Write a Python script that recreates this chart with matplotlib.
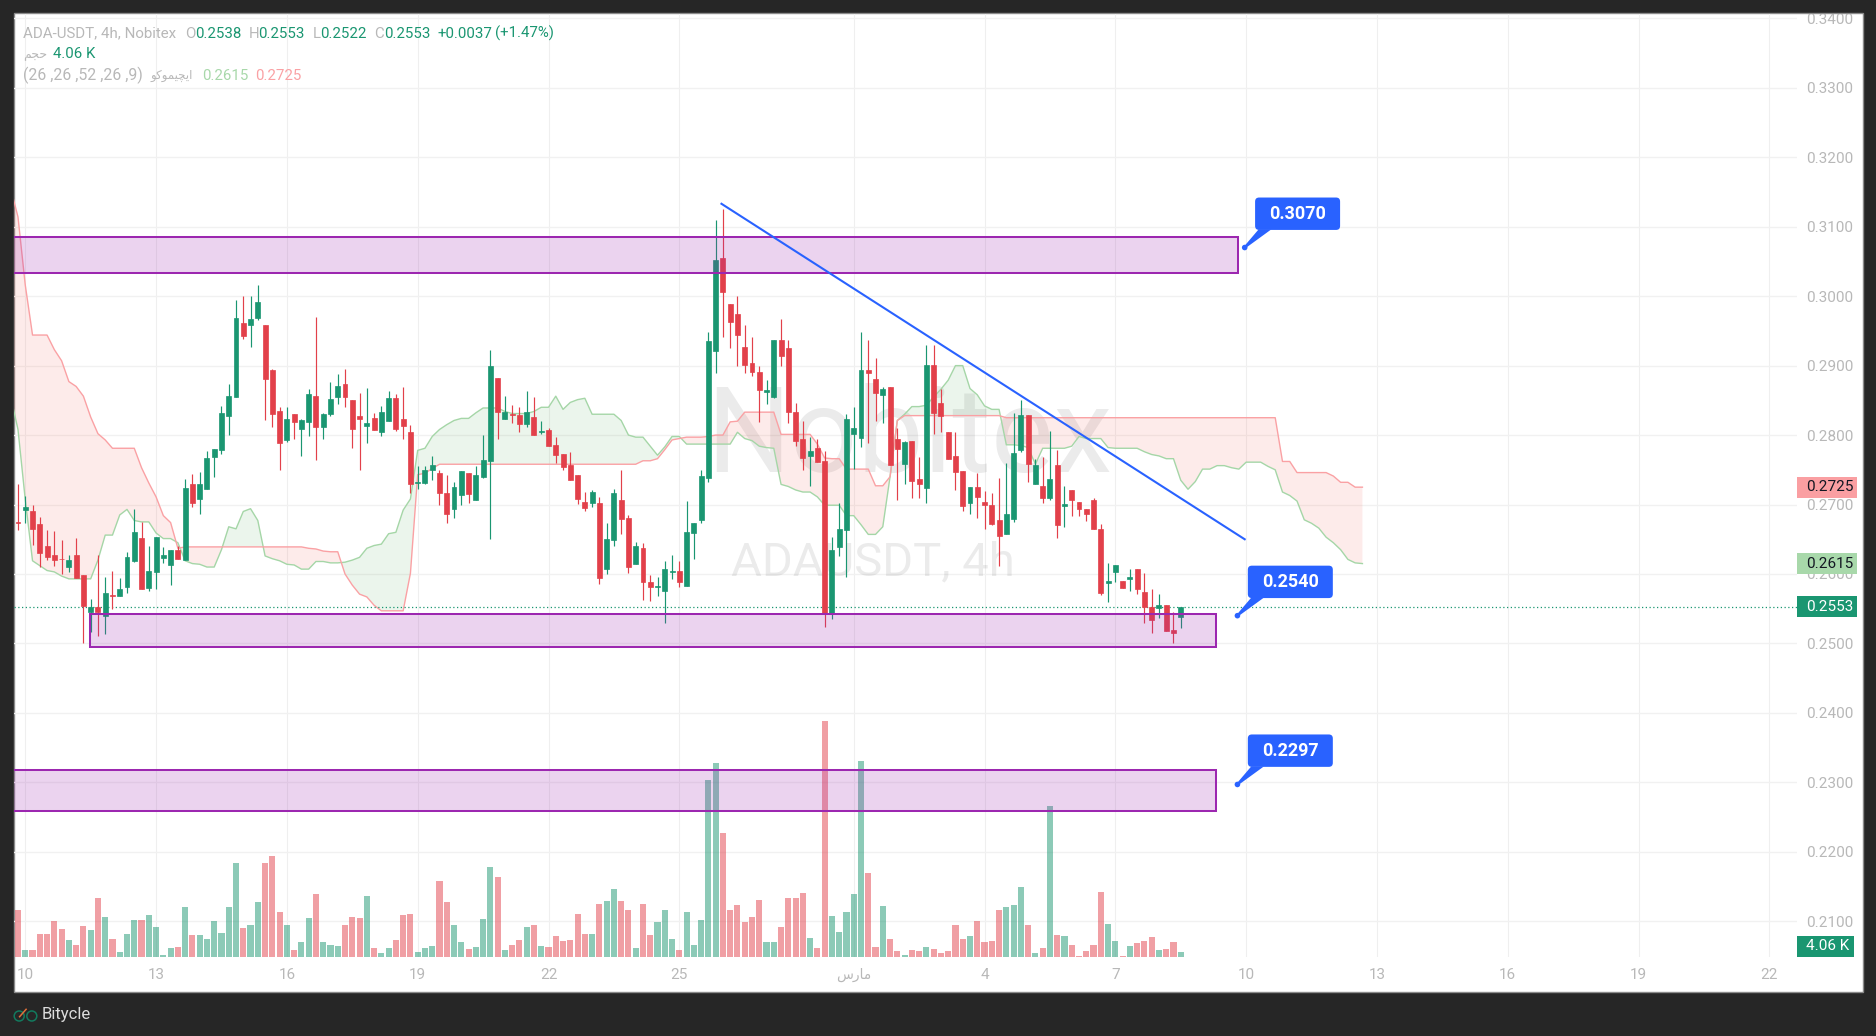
import numpy as np
import matplotlib
matplotlib.use("Agg")
import matplotlib.pyplot as plt
from matplotlib.lines import Line2D
from matplotlib.patches import Circle, FancyBboxPatch, Polygon, Rectangle
from matplotlib.transforms import Bbox, IdentityTransform

plt.rcParams["font.family"] = ["Roboto", "DejaVu Sans"]

# 4h candles, first one sits one bar before the "10" tick
opens = [
    .2675, .2692, .2691, .2672, .2640, .2627, .2622, .2610, .2627, .2599,
    .2545, .2553, .2540, .2570, .2568, .2581, .2619, .2652, .2580, .2603,
    .2623, .2613, .2635, .2620, .2730, .2708, .2722, .2769, .2779, .2828,
    .2855, .2961, .2958, .2969, .2959, .2894, .2835, .2793, .2830, .2809,
    .2819, .2856, .2812, .2830, .2855, .2874, .2851, .2828, .2813, .2825,
    .2805, .2820, .2853, .2823, .2805, .2731, .2731, .2750, .2745, .2717,
    .2694, .2714, .2745, .2707, .2740, .2763, .2882, .2823, .2830, .2829,
    .2816, .2826, .2805, .2807, .2786, .2773, .2757, .2743, .2704, .2702,
    .2702, .2607, .2649, .2707, .2681, .2614, .2637, .2589, .2581, .2576,
    .2603, .2604, .2583, .2659, .2678, .2738, .2921, .3055, .2989, .2974,
    .2927, .2904, .2891, .2862, .2855, .2937, .2925, .2833, .2794, .2770,
    .2781, .2763, .2542, .2639, .2663, .2802, .2796, .2894, .2881, .2858,
    .2869, .2794, .2758, .2792, .2737, .2724, .2901, .2846, .2805, .2770,
    .2748, .2702, .2725, .2704, .2699, .2678, .2657, .2679, .2778, .2829,
    .2729, .2727, .2709, .2757, .2698, .2721, .2704, .2693, .2706, .2665,
    .2587, .2603, .2590, .2593, .2607, .2574, .2552, .2551, .2555, .2519,
    .2538,
]
highs = [
    .2730, .2712, .2699, .2682, .2663, .2662, .2649, .2627, .2652, .2599,
    .2564, .2627, .2596, .2604, .2594, .2632, .2694, .2675, .2640, .2653,
    .2639, .2635, .2640, .2737, .2744, .2747, .2777, .2780, .2842, .2874,
    .2995, .3000, .3000, .3016, .2959, .2895, .2841, .2841, .2830, .2823,
    .2866, .2970, .2832, .2877, .2888, .2895, .2851, .2861, .2868, .2832,
    .2842, .2864, .2859, .2869, .2815, .2756, .2756, .2770, .2750, .2743,
    .2733, .2748, .2745, .2756, .2800, .2923, .2882, .2856, .2843, .2841,
    .2864, .2855, .2820, .2810, .2797, .2773, .2776, .2743, .2718, .2721,
    .2711, .2673, .2722, .2750, .2685, .2646, .2645, .2599, .2596, .2619,
    .2627, .2619, .2705, .2673, .2750, .2949, .3110, .3126, .2989, .3000,
    .2959, .2941, .2900, .2879, .2937, .2967, .2937, .2846, .2820, .2797,
    .2794, .2777, .2653, .2702, .2830, .2841, .2949, .2937, .2911, .2869,
    .2869, .2810, .2792, .2792, .2769, .2930, .2930, .2866, .2805, .2805,
    .2748, .2725, .2745, .2719, .2716, .2738, .2760, .2832, .2850, .2829,
    .2765, .2768, .2806, .2778, .2727, .2721, .2704, .2693, .2709, .2672,
    .2616, .2613, .2590, .2607, .2607, .2601, .2578, .2571, .2555, .2545,
    .2553,
]
lows = [
    .2663, .2674, .2642, .2610, .2620, .2612, .2600, .2603, .2594, .2500,
    .2517, .2511, .2514, .2550, .2568, .2573, .2617, .2578, .2576, .2578,
    .2616, .2584, .2622, .2620, .2697, .2686, .2722, .2740, .2773, .2800,
    .2855, .2938, .2927, .2966, .2822, .2812, .2750, .2790, .2794, .2770,
    .2799, .2764, .2794, .2828, .2845, .2841, .2781, .2750, .2789, .2807,
    .2799, .2820, .2806, .2794, .2717, .2722, .2730, .2735, .2699, .2673,
    .2681, .2699, .2702, .2707, .2738, .2650, .2794, .2823, .2817, .2805,
    .2812, .2800, .2802, .2784, .2760, .2750, .2735, .2701, .2691, .2697,
    .2586, .2600, .2640, .2658, .2601, .2614, .2563, .2561, .2568, .2529,
    .2593, .2581, .2583, .2622, .2673, .2733, .2889, .2941, .2925, .2900,
    .2889, .2885, .2819, .2845, .2853, .2900, .2817, .2784, .2750, .2727,
    .2761, .2524, .2535, .2626, .2596, .2751, .2783, .2789, .2820, .2817,
    .2757, .2707, .2730, .2709, .2709, .2702, .2802, .2805, .2766, .2721,
    .2691, .2686, .2681, .2665, .2670, .2611, .2657, .2675, .2776, .2732,
    .2729, .2702, .2706, .2652, .2668, .2683, .2683, .2676, .2665, .2570,
    .2560, .2588, .2580, .2575, .2571, .2529, .2515, .2536, .2518, .2500,
    .2522,
]
closes = [
    .2673, .2697, .2665, .2630, .2625, .2620, .2621, .2620, .2594, .2554,
    .2553, .2545, .2573, .2568, .2578, .2625, .2661, .2578, .2604, .2653,
    .2627, .2635, .2622, .2724, .2702, .2730, .2767, .2780, .2832, .2856,
    .2969, .2943, .2967, .2992, .2881, .2830, .2789, .2823, .2819, .2822,
    .2859, .2812, .2830, .2852, .2871, .2855, .2809, .2823, .2817, .2807,
    .2833, .2853, .2809, .2813, .2730, .2733, .2750, .2757, .2717, .2686,
    .2725, .2748, .2715, .2743, .2764, .2900, .2833, .2833, .2829, .2816,
    .2833, .2800, .2806, .2784, .2771, .2754, .2735, .2708, .2695, .2718,
    .2594, .2650, .2717, .2679, .2610, .2640, .2589, .2581, .2583, .2607,
    .2604, .2589, .2661, .2673, .2741, .2936, .3052, .3006, .2963, .2944,
    .2901, .2891, .2865, .2865, .2937, .2914, .2833, .2792, .2767, .2777,
    .2761, .2542, .2635, .2665, .2823, .2810, .2894, .2889, .2861, .2866,
    .2757, .2780, .2790, .2734, .2730, .2901, .2832, .2828, .2766, .2747,
    .2698, .2725, .2711, .2699, .2672, .2655, .2686, .2774, .2829, .2758,
    .2757, .2709, .2737, .2670, .2701, .2706, .2693, .2686, .2665, .2572,
    .2590, .2613, .2580, .2596, .2578, .2552, .2534, .2555, .2518, .2515,
    .2553,
]
# volume in thousands
volumes = [
    38.1, 5.7, 5.7, 18.6, 18.6, 29.2, 22.7, 13.8, 9.7, 25.1,
    21.9, 47.8, 32.4, 14.6, 4.1, 18.6, 30.0, 30.0, 34.0, 24.3,
    1.6, 7.3, 8.1, 40.5, 17.8, 17.8, 14.6, 29.2, 19.4, 40.5,
    76.1, 23.5, 25.9, 44.6, 76.1, 81.8, 36.5, 25.9, 5.7, 12.2,
    31.6, 51.0, 12.2, 9.7, 8.9, 25.9, 32.4, 31.6, 49.4, 7.3,
    3.2, 7.3, 13.8, 34.0, 34.8, 4.1, 7.3, 8.9, 61.6, 44.6,
    25.9, 12.2, 6.5, 8.1, 30.8, 72.9, 64.8, 5.7, 9.7, 13.8,
    24.3, 25.9, 8.9, 8.1, 17.0, 13.0, 13.8, 34.8, 18.6, 18.6,
    42.9, 45.4, 55.1, 45.4, 38.1, 7.3, 42.9, 17.8, 28.4, 38.1,
    14.6, 5.7, 36.5, 9.7, 30.0, 143.4, 157.1, 100.4, 38.1, 42.1,
    28.4, 32.4, 46.2, 12.2, 12.2, 24.3, 47.8, 47.8, 51.8, 15.4,
    7.3, 191.2, 33.2, 20.3, 36.5, 51.0, 158.8, 68.0, 8.1, 41.3,
    14.6, 4.9, 1.6, 5.7, 4.9, 8.1, 6.5, 3.2, 4.9, 25.9,
    14.6, 17.0, 29.2, 12.2, 13.0, 38.1, 40.5, 42.1, 56.7, 25.9,
    3.2, 7.3, 122.3, 17.8, 17.0, 9.7, 0.8, 4.9, 9.7, 52.7,
    26.7, 13.0, 0.8, 8.9, 11.3, 13.0, 16.2, 5.7, 6.5, 12.2,
    4.06,
]
# ichimoku cloud, starts one bar left of the first candle, runs past the last one
span_a = [
    .2855, .2808, .2707, .2619, .2612, .2605, .2603, .2597, .2593, .2593,
    .2593, .2593, .2620, .2656, .2656, .2685, .2693, .2677, .2675, .2675,
    .2659, .2651, .2651, .2645, .2619, .2615, .2614, .2610, .2610, .2635,
    .2668, .2665, .2690, .2694, .2677, .2626, .2622, .2619, .2614, .2613,
    .2607, .2607, .2618, .2618, .2616, .2616, .2617, .2620, .2624, .2637,
    .2641, .2643, .2658, .2660, .2692, .2708, .2778, .2781, .2798, .2808,
    .2815, .2821, .2824, .2824, .2832, .2839, .2839, .2839, .2834, .2831,
    .2831, .2831, .2834, .2840, .2840, .2856, .2837, .2847, .2851, .2853,
    .2830, .2830, .2830, .2830, .2821, .2800, .2797, .2797, .2784, .2771,
    .2783, .2798, .2798, .2787, .2787, .2787, .2787, .2787, .2787, .2787,
    .2804, .2795, .2792, .2784, .2782, .2781, .2729, .2726, .2721, .2718,
    .2718, .2711, .2699, .2699, .2699, .2684, .2684, .2671, .2657, .2657,
    .2668, .2740, .2821, .2830, .2841, .2841, .2843, .2855, .2866, .2879,
    .2900, .2900, .2867, .2858, .2842, .2837, .2837, .2786, .2786, .2785,
    .2782, .2758, .2781, .2781, .2781, .2781, .2784, .2798, .2795, .2795,
    .2795, .2782, .2781, .2781, .2781, .2781, .2776, .2772, .2770, .2766,
    .2766, .2735, .2722, .2733, .2751, .2751, .2756, .2756, .2753, .2751,
    .2761, .2761, .2761, .2755, .2750, .2718, .2713, .2705, .2678, .2673,
    .2666, .2653, .2645, .2635, .2621, .2616, .2615,
]
span_b = [
    .3155, .3114, .3016, .2944, .2944, .2944, .2923, .2907, .2877, .2870,
    .2856, .2826, .2802, .2793, .2781, .2781, .2781, .2781, .2753, .2731,
    .2711, .2684, .2674, .2637, .2639, .2639, .2639, .2639, .2639, .2639,
    .2639, .2639, .2639, .2639, .2639, .2639, .2639, .2639, .2639, .2639,
    .2639, .2637, .2636, .2633, .2632, .2632, .2600, .2584, .2571, .2567,
    .2555, .2547, .2547, .2547, .2547, .2601, .2743, .2745, .2752, .2758,
    .2758, .2758, .2758, .2758, .2758, .2758, .2758, .2758, .2758, .2758,
    .2758, .2758, .2758, .2758, .2758, .2758, .2758, .2758, .2758, .2758,
    .2758, .2758, .2758, .2758, .2758, .2758, .2758, .2763, .2763, .2766,
    .2779, .2793, .2795, .2797, .2797, .2797, .2798, .2800, .2800, .2819,
    .2820, .2833, .2833, .2833, .2833, .2833, .2801, .2801, .2801, .2801,
    .2801, .2787, .2767, .2766, .2766, .2751, .2751, .2751, .2751, .2727,
    .2727, .2740, .2821, .2828, .2828, .2828, .2828, .2828, .2828, .2828,
    .2828, .2828, .2828, .2828, .2828, .2828, .2828, .2825, .2825, .2825,
    .2825, .2825, .2825, .2825, .2825, .2825, .2825, .2825, .2825, .2825,
    .2825, .2825, .2825, .2825, .2825, .2825, .2825, .2825, .2825, .2825,
    .2825, .2825, .2825, .2825, .2825, .2825, .2825, .2825, .2825, .2825,
    .2825, .2825, .2825, .2825, .2825, .2762, .2762, .2746, .2746, .2746,
    .2746, .2746, .2741, .2732, .2732, .2725, .2725,
]

price_ticks = [.21, .22, .23, .24, .25, .26, .27, .28, .29, .30, .31, .32, .33, .34]
date_tick_bars = [1, 19, 37, 55, 73, 91, 115, 133, 151, 169, 187, 205, 223, 241]
date_tick_labels = ["10", "13", "16", "19", "22", "25", "\ufeb1\ufead\ufe8e\ufee3",
                    "4", "7", "10", "13", "16", "19", "22"]

# zones drawn on the chart: left bar, right bar, top price, bottom price
zones = [(-5, 167.9, .3085, .3033), (9.9, 164.9, .2542, .2495), (-5, 164.9, .2318, .2259)]
trend_x = [96.8, 168.8]
trend_y = [.3133, .2650]
callouts = [(168.8, .3070, "0.3070"), (167.8, .2540, "0.2540"), (167.8, .2297, "0.2297")]

last_price = .2553
green = "#1a9671"
red = "#e2404a"
grey = "#b8b8b8"
purple = "#9c27b0"
blue = "#2962ff"

W, H = 1876, 1036
LEFT, RIGHT, TOP, BOTTOM = 14, 1797, 14, 957
y_min, y_max = .20486, .34062
vol_top = 764

fig = plt.figure(figsize=(W / 100, H / 100), dpi=100, facecolor="#262626")
pixel = IdentityTransform()


def py(y):
    # image y (from the top) to display y
    return H - y


def put_text(x, y, s, color=grey, size=10.8, **kwargs):
    fig.text(x / W, py(y) / H, s, color=color, fontsize=size, va="center", **kwargs)


fig.add_artist(Rectangle((13.5, py(991.7)), 1849, 978.4, transform=pixel, facecolor="white",
                         edgecolor="#8a8a8a", linewidth=1, zorder=-1))

rect = [LEFT / W, (H - BOTTOM) / H, (RIGHT - LEFT) / W, (BOTTOM - TOP) / H]
vol_ax = fig.add_axes(rect, zorder=1)
ax = fig.add_axes(rect, zorder=2, sharex=vol_ax)
ax.patch.set_visible(False)
vol_ax.patch.set_visible(False)

x_candle = np.arange(len(opens))
x_cloud = np.arange(-1, len(span_a) - 1)
o, h, l, c = map(np.array, (opens, highs, lows, closes))
a, b = np.array(span_a), np.array(span_b)
up = c >= o
colors = np.where(up, green, red)

# Volume sits behind everything, grid lives on this axes too
vol_ax.bar(x_candle, volumes, width=0.84, color=colors, alpha=0.5, linewidth=0)
vol_ax.set_ylim(0, vol_top)
vol_ax.set_yticks((np.array(price_ticks) - y_min) / (y_max - y_min) * vol_top)
vol_ax.grid(True, axis="y", color="#f1f1f1", linewidth=1)
vol_ax.grid(True, axis="x", color="#efefef", linewidth=0.75)
vol_ax.set_axisbelow(True)
vol_ax.tick_params(length=0, labelleft=False, labelbottom=False)

# Watermark
ax.text(0.502, 0.5146, "Nobitex", transform=ax.transAxes, ha="center", va="baseline",
        fontsize=85, color="black", alpha=0.08, zorder=0.5)
ax.text(0.4818, 0.405, "ADAUSDT, 4h", transform=ax.transAxes, ha="center", va="baseline",
        fontsize=34, color="black", alpha=0.08, zorder=0.5)

# Cloud
ax.fill_between(x_cloud, a, b, where=a >= b, interpolate=True, color="#43a047", alpha=0.1,
                linewidth=0, zorder=1)
ax.fill_between(x_cloud, a, b, where=a < b, interpolate=True, color="#f44336", alpha=0.1,
                linewidth=0, zorder=1)
ax.plot(x_cloud, a, color="#a5d6a7", linewidth=1, zorder=1.5)
ax.plot(x_cloud, b, color="#faa1a4", linewidth=1, zorder=1.5)

# Candles
ax.axhline(last_price, color=green, linewidth=0.9, linestyle=(0, (1, 2)), zorder=2)
ax.vlines(x_candle, l, h, colors=colors, linewidth=0.85, zorder=3)
ax.bar(x_candle, np.abs(c - o), bottom=np.minimum(o, c), width=0.68, color=colors,
       edgecolor=colors, linewidth=0.5, zorder=3)

# Zones and trend line
for x0, x1, top, bottom in zones:
    ax.add_patch(Rectangle((x0, bottom), x1 - x0, top - bottom, facecolor=(0.612, 0.153, 0.69, 0.2),
                           edgecolor=purple, linewidth=1.45, zorder=4))
ax.plot(trend_x, trend_y, color=blue, linewidth=1.5, zorder=4.5)

ax.set_xlim(-0.55, 244.8)
ax.set_ylim(y_min, y_max)
ax.set_xticks(date_tick_bars)
ax.set_xticklabels(date_tick_labels)
ax.set_yticks(price_ticks)
ax.set_yticklabels(["%.4f" % p for p in price_ticks])
ax.yaxis.tick_right()
ax.tick_params(axis="both", length=0, labelcolor=grey, labelsize=11)
ax.tick_params(axis="x", pad=8)
ax.tick_params(axis="y", pad=6.5)
for label in ax.get_xticklabels():
    if label.get_text().startswith("\ufeb1"):
        label.set_family("DejaVu Sans")
        label.set_fontsize(10)
clip = Bbox.from_extents(0, 0, W, py(13.5))
for label in ax.get_yticklabels():
    label.set_clip_box(clip)
    label.set_clip_on(True)
for axis in (ax, vol_ax):
    for spine in axis.spines.values():
        spine.set_visible(False)

# Callouts keep a fixed pixel size next to their anchor point
for x_tip, p_tip, text in callouts:
    tx, ty = ax.transData.transform((x_tip, p_tip))
    fig.add_artist(FancyBboxPatch((tx + 13.4, ty + 20.6), 79, 26.4, transform=pixel,
                                  boxstyle="round,pad=3,rounding_size=4", facecolor=blue,
                                  edgecolor="none", zorder=6))
    fig.add_artist(Polygon([(tx + 13.8, ty + 18), (tx + 26.4, ty + 18), (tx + 1, ty - 0.5), (tx - 0.7, ty + 1)],
                           transform=pixel, facecolor=blue, edgecolor="none", zorder=6))
    fig.add_artist(Circle((tx, ty), 2.8, transform=pixel, facecolor=blue, edgecolor="none", zorder=6))
    fig.text((tx + 52.9) / W, (ty + 33.8) / H, text, color="white", fontsize=13, fontweight="bold",
             ha="center", va="center", zorder=7)

# Price scale tags
tags = [(.2725, "0.2725", "#fa9fa2", "#131722", 60), (.2615, "0.2615", "#a8d8aa", "#131722", 60),
        (.2553, "0.2553", green, "white", 60)]
for price, text, face, ink, width in tags:
    ty = ax.transData.transform((0, price))[1]
    fig.add_artist(Rectangle((1797, ty - 10.5), width, 21, transform=pixel, facecolor=face,
                             edgecolor="none", zorder=3))
    fig.text(1806 / W, ty / H, text, color=ink, fontsize=11, va="center", zorder=4)
fig.add_artist(Rectangle((1797, py(956.7)), 57, 20.7, transform=pixel, facecolor=green,
                         edgecolor="none", zorder=3))
put_text(1806, 946.5, "4.06 K", color="white", size=11, zorder=4)

# Legend text
put_text(23, 33.5, "ADA-USDT, 4h, Nobitex", size=10.9)
for x, s in [(185, "O"), (249, "H"), (313, "L"), (374, "C")]:
    put_text(x, 33.5, s)
for x, s in [(195, "0.2538"), (258, "0.2553"), (320, "0.2522"), (384, "0.2553"),
             (437, "+0.0037"), (495, "(+1.47%)")]:
    put_text(x, 33.5, s, color=green)
put_text(23, 54.5, "\ufee2\ufea0\ufea3", size=9, family="DejaVu Sans")
put_text(53, 54.5, "4.06 K", color=green)
put_text(23, 75.8, "(26 ,26 ,52 ,26 ,9)", size=11.4)
put_text(150, 75.8, "\ufeee\ufb90\ufeee\ufee4\ufbff\ufb7d\ufbfe\ufe8d", size=8.5, family="DejaVu Sans")
put_text(202, 75.8, "0.2615", color="#a8d8aa")
put_text(255.5, 75.8, "0.2725", color="#faa1a4")

# Footer logo
for cx in (19.2, 31.8):
    fig.add_artist(Circle((cx, py(1016)), 5, transform=pixel, facecolor="none",
                          edgecolor="#127a5e", linewidth=1.1))
fig.add_artist(Line2D([19.6, 26.1], [py(1016.7), py(1009.3)], transform=pixel, color="#e0703a",
                      linewidth=1.1))
put_text(42, 1015, "Bitycle", color="#dcdcdc", size=12)

fig.savefig("out.png", dpi=100)
